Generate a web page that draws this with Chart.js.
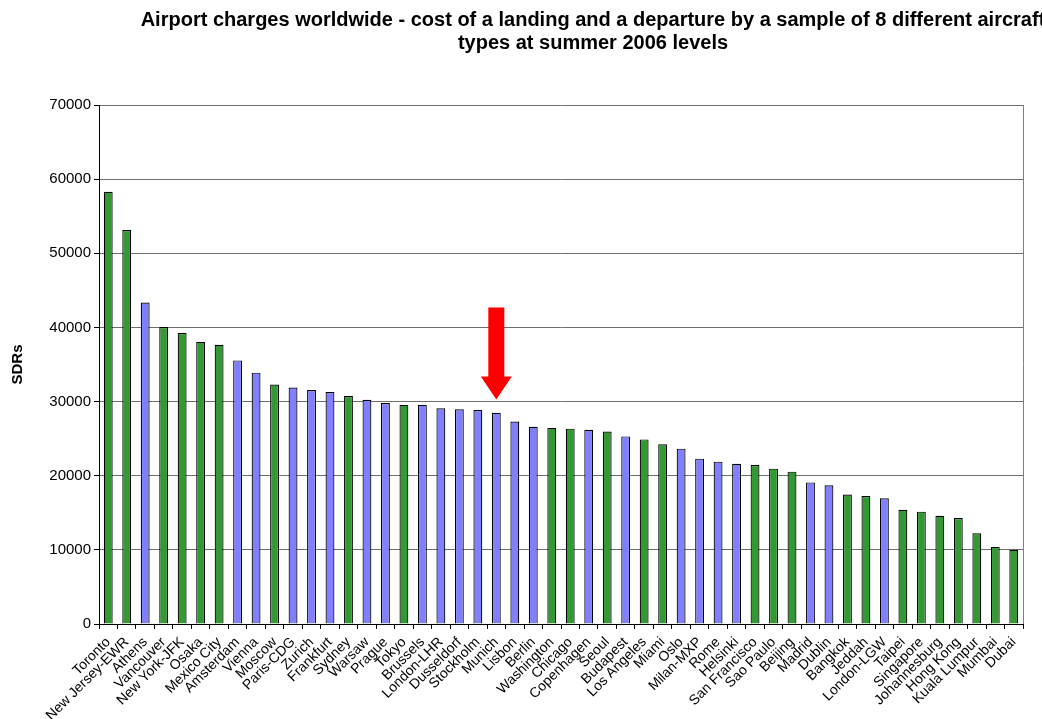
<!DOCTYPE html>
<html lang="en">
<head>
    <meta charset="UTF-8">
    <title>Airport charges worldwide</title>
    <script src="https://cdn.jsdelivr.net/npm/chart.js"></script>
    <style>
        body {
            margin: 0;
            background: #fff;
            overflow: hidden;
        }

        .wrap {
            position: relative;
            width: 1042px;
            height: 719px;
        }

        /* centred a bit right of the page, first line runs off the edge like the original */
        .title {
            position: absolute;
            top: 8px;
            left: 0;
            width: 1186px;
            text-align: center;
            white-space: nowrap;
            font-family: "Liberation Sans", Arial, sans-serif;
            font-weight: bold;
            font-size: 20px;
            line-height: 23px;
            color: #000;
            z-index: 1;
        }
    </style>
</head>
<body>
    <div class="wrap">
        <div class="title">
            Airport charges worldwide - cost of a landing and a departure by a sample of 8 different aircraft<br>
            types at summer 2006 levels
        </div>
        <canvas id="chargesChart"></canvas>
    </div>

    <script>
        const cities = [
            'Toronto', 'New Jersey-EWR', 'Athens', 'Vancouver', 'New York-JFK', 'Osaka', 'Mexico City',
            'Amsterdam', 'Vienna', 'Moscow', 'Paris-CDG', 'Zurich', 'Frankfurt', 'Sydney', 'Warsaw',
            'Prague', 'Tokyo', 'Brussels', 'London-LHR', 'Dusseldorf', 'Stockholm', 'Munich', 'Lisbon',
            'Berlin', 'Washington', 'Chicago', 'Copenhagen', 'Seoul', 'Budapest', 'Los Angeles', 'Miami',
            'Oslo', 'Milan-MXP', 'Rome', 'Helsinki', 'San Francisco', 'Sao Paulo', 'Beijing', 'Madrid',
            'Dublin', 'Bangkok', 'Jeddah', 'London-LGW', 'Taipei', 'Singapore', 'Johannesburg',
            'Hong Kong', 'Kuala Lumpur', 'Mumbai', 'Dubai'
        ];

        // cost in SDRs
        const charges = [
            58300, 53150, 43350, 40050, 39250, 38050, 37650,
            35550, 33900, 32300, 31900, 31550, 31300, 30750, 30250,
            29800, 29550, 29550, 29100, 28950, 28850, 28500, 27300,
            26600, 26450, 26350, 26200, 25950, 25300, 24900, 24250,
            23650, 22300, 21900, 21600, 21450, 20950, 20550, 19100,
            18700, 17450, 17250, 16950, 15400, 15150, 14600,
            14300, 12250, 10400, 10000
        ];

        // A = green bars, B = blue bars
        const groups = [
            'A', 'A', 'B', 'A', 'A', 'A', 'A',
            'B', 'B', 'A', 'B', 'B', 'B', 'A', 'B',
            'B', 'A', 'B', 'B', 'B', 'B', 'B', 'B',
            'B', 'A', 'A', 'B', 'A', 'B', 'A', 'A',
            'B', 'B', 'B', 'B', 'A', 'A', 'A', 'B',
            'B', 'A', 'A', 'B', 'A', 'A', 'A',
            'A', 'A', 'A', 'A'
        ];

        const yTicks = [0, 10000, 20000, 30000, 40000, 50000, 60000, 70000];

        // red arrow pointing down at Munich
        const arrowCity = 'Munich';
        const arrowFrom = 42700;
        const arrowTo = 30280;

        const groupColors = { A: '#339933', B: '#8080ff' };

        const arrowPlugin = {
            id: 'arrow',
            afterDatasetsDraw(chart) {
                const ctx = chart.ctx;
                const x = chart.scales.x.getPixelForValue(cities.indexOf(arrowCity));
                const yTop = chart.scales.y.getPixelForValue(arrowFrom);
                const yTip = chart.scales.y.getPixelForValue(arrowTo);
                const headLen = 23;
                ctx.save();
                ctx.fillStyle = '#ff0000';
                ctx.beginPath();
                ctx.moveTo(x - 8, yTop);
                ctx.lineTo(x + 8, yTop);
                ctx.lineTo(x + 8, yTip - headLen);
                ctx.lineTo(x + 15.5, yTip - headLen);
                ctx.lineTo(x, yTip);
                ctx.lineTo(x - 15.5, yTip - headLen);
                ctx.lineTo(x - 8, yTip - headLen);
                ctx.closePath();
                ctx.fill();
                ctx.restore();
            }
        };

        // grey right edge of the plot box
        const framePlugin = {
            id: 'frame',
            beforeDatasetsDraw(chart) {
                const a = chart.chartArea;
                const ctx = chart.ctx;
                ctx.save();
                ctx.strokeStyle = '#808080';
                ctx.lineWidth = 1;
                ctx.beginPath();
                ctx.moveTo(a.right + 0.5, a.top);
                ctx.lineTo(a.right + 0.5, a.bottom);
                ctx.stroke();
                ctx.restore();
            }
        };

        Chart.defaults.font.family = '"Liberation Sans", Arial, sans-serif';
        Chart.defaults.color = '#000';

        new Chart(document.getElementById('chargesChart'), {
            type: 'bar',
            data: {
                labels: cities,
                datasets: [{
                    label: 'SDRs',
                    data: charges,
                    backgroundColor: groups.map(g => groupColors[g]),
                    borderColor: '#000',
                    borderWidth: 1.2,
                    categoryPercentage: 1,
                    barPercentage: 0.48
                }]
            },
            options: {
                responsive: true,
                maintainAspectRatio: false,
                animation: false,
                layout: {
                    padding: { left: 0, right: 19, top: 105, bottom: 0 }
                },
                plugins: {
                    legend: { display: false },
                    tooltip: { enabled: false },
                    title: { display: false }
                },
                scales: {
                    x: {
                        offset: true,
                        grid: {
                            offset: true,
                            drawOnChartArea: false,
                            drawTicks: true,
                            tickLength: 5,
                            tickColor: '#000'
                        },
                        border: { color: '#000', width: 1 },
                        ticks: {
                            autoSkip: false,
                            minRotation: 45,
                            maxRotation: 45,
                            padding: 5,
                            font: { size: 14 }
                        },
                        afterFit(scale) {
                            scale.height = 95;
                        }
                    },
                    y: {
                        min: 0,
                        max: 70000,
                        afterBuildTicks(scale) {
                            scale.ticks = yTicks.map(v => ({ value: v }));
                        },
                        grid: {
                            color: '#6e6e6e',
                            tickLength: 5,
                            tickColor: '#000'
                        },
                        border: { color: '#000', width: 1 },
                        ticks: {
                            padding: 3,
                            font: { size: 15 },
                            callback: v => String(v)
                        },
                        title: {
                            display: true,
                            text: 'SDRs',
                            font: { size: 15, weight: 'bold' },
                            padding: { top: 9, bottom: 0 }
                        },
                        afterFit(scale) {
                            scale.width = 99;
                        }
                    }
                }
            },
            plugins: [framePlugin, arrowPlugin]
        });
    </script>
</body>
</html>
